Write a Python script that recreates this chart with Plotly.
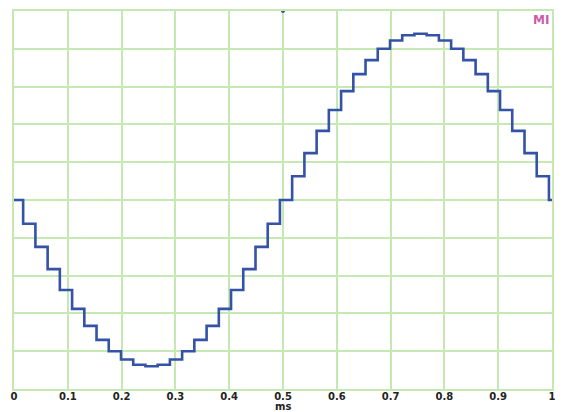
import plotly.graph_objects as go

# step start times (ms)
step_times = [0.0, 0.0170, 0.0398, 0.0625, 0.0852, 0.1080, 0.1307, 0.1534, 0.1761,
              0.1989, 0.2216, 0.2443, 0.2670, 0.2898, 0.3125, 0.3352, 0.3580,
              0.3807, 0.4034, 0.4261, 0.4489, 0.4716, 0.4943, 0.5170, 0.5398,
              0.5625, 0.5852, 0.6080, 0.6307, 0.6534, 0.6761, 0.6989, 0.7216,
              0.7443, 0.7670, 0.7898, 0.8125, 0.8352, 0.8580, 0.8807, 0.9034,
              0.9261, 0.9489, 0.9716, 0.9943, 1.0]
# step levels (divisions)
step_levels = [0.00, -0.63, -1.24, -1.83, -2.38, -2.88, -3.33, -3.70, -4.00, -4.22,
               -4.36, -4.40, -4.36, -4.22, -4.00, -3.70, -3.33, -2.88, -2.38, -1.83,
               -1.24, -0.63, 0.00, 0.63, 1.24, 1.83, 2.38, 2.88, 3.33, 3.70,
               4.00, 4.22, 4.36, 4.40, 4.36, 4.22, 4.00, 3.70, 3.33, 2.88,
               2.38, 1.83, 1.24, 0.63, 0.00, 0.00]

x_ticks = [0, 0.1, 0.2, 0.3, 0.4, 0.5, 0.6, 0.7, 0.8, 0.9, 1]
x_tick_labels = ["0", "0.1", "0.2", "0.3", "0.4", "0.5", "0.6", "0.7", "0.8", "0.9", "1"]

marker_x = [0.5]
marker_y = [5]

grid = "#c6e8b2"
blue = "#3352a8"

fig = go.Figure()
fig.add_trace(go.Scatter(x=step_times, y=step_levels, mode="lines",
                         line=dict(color=blue, width=2.6, shape="hv"),
                         hoverinfo="skip"))
fig.add_trace(go.Scatter(x=marker_x, y=marker_y, mode="markers",
                         marker=dict(color=blue, size=4), cliponaxis=False,
                         hoverinfo="skip"))

# page body has an 8px default margin, so the figure is sized to fit the window
fig.update_layout(
    width=558, height=404,
    margin=dict(l=6, r=14, t=3, b=23, autoexpand=False),
    paper_bgcolor="white", plot_bgcolor="white",
    showlegend=False,
    font=dict(family="DejaVu Sans, Arial, sans-serif", color="#222"),
    xaxis=dict(range=[0, 1], tickvals=x_ticks, ticktext=x_tick_labels,
               showgrid=True, gridcolor=grid, gridwidth=1.5,
               showline=True, linecolor=grid, linewidth=1.5, mirror=True,
               zeroline=False, ticks="", automargin=False,
               ticklabelstandoff=-3,
               tickfont=dict(size=10, weight="bold", color="#222")),
    yaxis=dict(range=[-5, 5], dtick=1, showticklabels=False,
               showgrid=True, gridcolor=grid, gridwidth=1.5,
               showline=True, linecolor=grid, linewidth=1.5, mirror=True,
               zeroline=False, ticks="", automargin=False),
    annotations=[
        dict(text="ms", xref="paper", yref="paper", x=0.5, y=0, yanchor="top",
             yshift=-10, showarrow=False,
             font=dict(size=10, weight="bold", color="#222")),
        dict(text="MI", xref="paper", yref="paper", x=1, y=1, xanchor="right",
             yanchor="top", xshift=-1, yshift=0, showarrow=False,
             font=dict(size=12, weight="bold", color="#cc5aa8")),
    ],
)

fig.write_html("out.html")
